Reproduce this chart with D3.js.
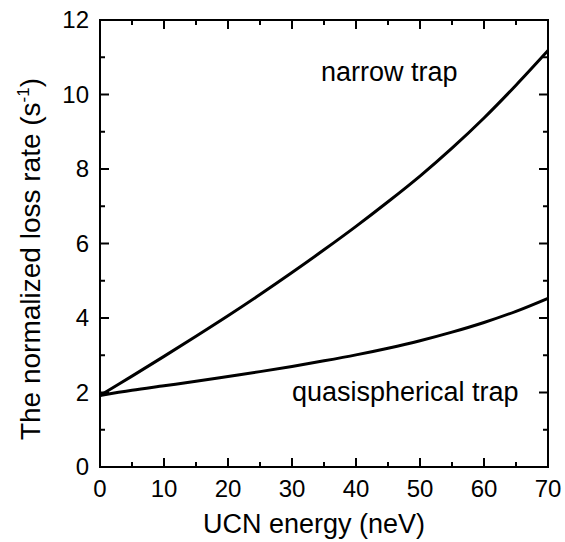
<!DOCTYPE html>
<html>
<head>
<meta charset="utf-8">
<script src="https://cdn.jsdelivr.net/npm/d3@7"></script>
<style>
  html, body { margin: 0; padding: 0; background: #fff; }
  svg { display: block; }
  text { font-family: "Liberation Sans", Arial, sans-serif; fill: #000; }
</style>
</head>
<body>
<svg id="chart" width="565" height="542"></svg>
<script>
// ---- data ----
const energy = [0, 5, 10, 15, 20, 25, 30, 35, 40, 45, 50, 55, 60, 65, 70];
const narrowTrap = [1.92, 2.44, 2.97, 3.51, 4.06, 4.63, 5.22, 5.83, 6.46, 7.12, 7.81, 8.56, 9.37, 10.25, 11.18];
const quasiTrap = [1.92, 2.06, 2.18, 2.30, 2.43, 2.56, 2.70, 2.85, 3.01, 3.19, 3.39, 3.62, 3.88, 4.18, 4.53];
const xTicks = [0, 10, 20, 30, 40, 50, 60, 70];
const yTicks = [0, 2, 4, 6, 8, 10, 12];
const xMinorTicks = [5, 15, 25, 35, 45, 55, 65];
const yMinorTicks = [1, 3, 5, 7, 9, 11];
const xLabel = "UCN energy (neV)";
const seriesLabels = ["narrow trap", "quasispherical trap"];

// ---- layout ----
const svg = d3.select("#chart");
const pLeft = 100, pRight = 548, pTop = 20, pBottom = 467;
const x = d3.scaleLinear().domain([0, 70]).range([pLeft, pRight]);
const y = d3.scaleLinear().domain([0, 12]).range([pBottom, pTop]);
const majorLen = 9, minorLen = 5;

const g = svg.append("g");

// ticks (inward, all four sides)
function tickLines(vals, len, axis) {
  vals.forEach(v => {
    if (axis === "x") {
      const px = x(v);
      g.append("line").attr("x1", px).attr("x2", px).attr("y1", pBottom).attr("y2", pBottom - len)
        .attr("stroke", "#000").attr("stroke-width", 2);
      g.append("line").attr("x1", px).attr("x2", px).attr("y1", pTop).attr("y2", pTop + len)
        .attr("stroke", "#000").attr("stroke-width", 2);
    } else {
      const py = y(v);
      g.append("line").attr("x1", pLeft).attr("x2", pLeft + len).attr("y1", py).attr("y2", py)
        .attr("stroke", "#000").attr("stroke-width", 2);
      g.append("line").attr("x1", pRight).attr("x2", pRight - len).attr("y1", py).attr("y2", py)
        .attr("stroke", "#000").attr("stroke-width", 2);
    }
  });
}
tickLines(xTicks, majorLen, "x");
tickLines(xMinorTicks, minorLen, "x");
tickLines(yTicks, majorLen, "y");
tickLines(yMinorTicks, minorLen, "y");

// frame
g.append("rect").attr("x", pLeft).attr("y", pTop).attr("width", pRight - pLeft).attr("height", pBottom - pTop)
  .attr("fill", "none").attr("stroke", "#000").attr("stroke-width", 2);

// tick labels
g.selectAll(".xl").data(xTicks).enter().append("text")
  .attr("x", d => x(d)).attr("y", 497).attr("text-anchor", "middle")
  .attr("font-size", 24).text(d => d);
g.selectAll(".yl").data(yTicks).enter().append("text")
  .attr("x", 89).attr("y", d => y(d)).attr("dy", "0.35em").attr("text-anchor", "end")
  .attr("font-size", 24).text(d => d);

// axis titles
g.append("text").attr("x", 314).attr("y", 533).attr("text-anchor", "middle")
  .attr("font-size", 27).text(xLabel);
const yt = g.append("text").attr("transform", "translate(40,259) rotate(-90)")
  .attr("text-anchor", "middle").attr("font-size", 28);
yt.append("tspan").text("The normalized loss rate (s");
yt.append("tspan").attr("font-size", 17).attr("dy", -11).text("-1");
yt.append("tspan").attr("dy", 11).text(")");

// curves
const line = d3.line().x((d, i) => x(energy[i])).y(d => y(d)).curve(d3.curveCatmullRom.alpha(0.5));
[narrowTrap, quasiTrap].forEach(s => {
  g.append("path").datum(s).attr("d", line).attr("fill", "none")
    .attr("stroke", "#000").attr("stroke-width", 3).attr("stroke-linejoin", "round");
});

// annotations
g.append("text").attr("x", 321).attr("y", 81).attr("font-size", 27).text(seriesLabels[0]);
g.append("text").attr("x", 292).attr("y", 401).attr("font-size", 27).text(seriesLabels[1]);
</script>
</body>
</html>
